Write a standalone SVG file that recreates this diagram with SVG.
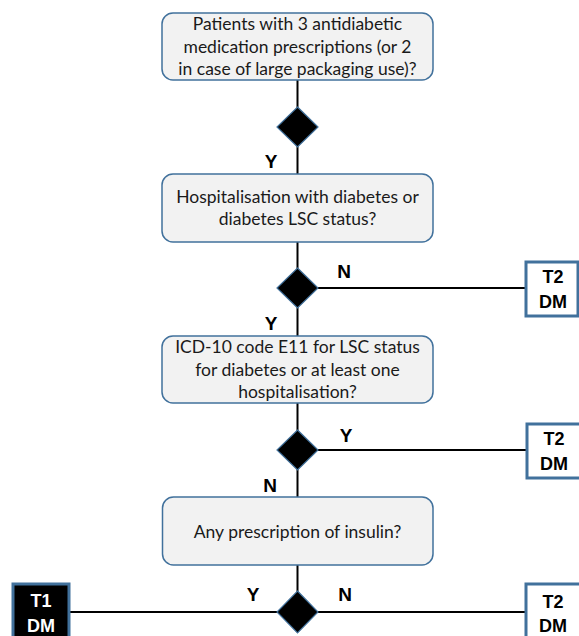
<svg xmlns="http://www.w3.org/2000/svg" width="579" height="636" viewBox="0 0 579 636">
<style>
.box{fill:#F2F2F2;stroke:#41719C;stroke-width:1.5}
.q{font-family:Lato,"Liberation Sans",sans-serif;font-size:17.5px;fill:#1a1a1a;text-anchor:middle}
.dia{fill:#000;stroke:#41719C;stroke-width:1.2}
.ln{stroke:#000;stroke-width:2;fill:none}
.lbl{font-family:"Liberation Sans",Arial,sans-serif;font-weight:bold;font-size:19px;fill:#000;text-anchor:middle}
.term{fill:#fff;stroke:#41719C;stroke-width:3}
.termk{fill:#000;stroke:#41719C;stroke-width:3}
.tt{font-family:"Liberation Sans",Arial,sans-serif;font-weight:bold;font-size:18px;fill:#000;text-anchor:middle}
.ttw{font-family:"Liberation Sans",Arial,sans-serif;font-weight:bold;font-size:18px;fill:#fff;text-anchor:middle}
</style>
<rect width="579" height="636" fill="#fff"/>
<g id="connectors">
<line class="ln" x1="297.5" y1="80" x2="297.5" y2="174"/>
<line class="ln" x1="297.5" y1="242" x2="297.5" y2="336"/>
<line class="ln" x1="297.5" y1="403" x2="297.5" y2="497"/>
<line class="ln" x1="297.5" y1="565" x2="297.5" y2="600"/>
<line class="ln" x1="297.5" y1="288" x2="526" y2="288"/>
<line class="ln" x1="297.5" y1="450" x2="527" y2="450"/>
<line class="ln" x1="69" y1="612" x2="526" y2="612"/>
</g>
<g id="q1">
<rect class="box" x="162" y="13" width="271" height="67" rx="11"/>
<text class="q" x="297.5" y="30">Patients with 3 antidiabetic</text>
<text class="q" x="297.5" y="53">medication prescriptions (or 2</text>
<text class="q" x="297.5" y="75">in case of large packaging use)?</text>
</g>
<g id="d1"><polygon class="dia" points="297.5,107 318,127 297.5,147 277,127"/></g>
<text class="lbl" x="271" y="168">Y</text>
<g id="q2">
<rect class="box" x="162" y="174" width="271" height="68" rx="11"/>
<text class="q" x="297.5" y="203">Hospitalisation with diabetes or</text>
<text class="q" x="297.5" y="225">diabetes LSC status?</text>
</g>
<g id="d2"><polygon class="dia" points="297.5,268 318,288 297.5,308 277,288"/></g>
<text class="lbl" x="344" y="278">N</text>
<text class="lbl" x="271" y="330">Y</text>
<g id="t2a">
<rect class="term" x="526" y="262" width="52" height="54"/>
<text class="tt" x="553" y="283">T2</text>
<text class="tt" x="553" y="308">DM</text>
</g>
<g id="q3">
<rect class="box" x="162" y="336" width="271" height="67" rx="11"/>
<text class="q" x="297.5" y="353">ICD-10 code E11 for LSC status</text>
<text class="q" x="297.5" y="376">for diabetes or at least one</text>
<text class="q" x="297.5" y="398">hospitalisation?</text>
</g>
<g id="d3"><polygon class="dia" points="297.5,430 318,450 297.5,470 277,450"/></g>
<text class="lbl" x="346" y="442">Y</text>
<text class="lbl" x="270" y="492">N</text>
<g id="t2b">
<rect class="term" x="527" y="424" width="54" height="54"/>
<text class="tt" x="554" y="445">T2</text>
<text class="tt" x="554" y="470">DM</text>
</g>
<g id="q4">
<rect class="box" x="162.5" y="497" width="270.5" height="68" rx="11"/>
<text class="q" x="297.5" y="538">Any prescription of insulin?</text>
</g>
<g id="d4"><polygon class="dia" points="297.5,591 318,612 297.5,633 277,612"/></g>
<text class="lbl" x="253" y="601">Y</text>
<text class="lbl" x="345" y="601">N</text>
<g id="t1">
<rect class="termk" x="13" y="584" width="56" height="56"/>
<text class="ttw" x="41" y="607">T1</text>
<text class="ttw" x="41" y="632">DM</text>
</g>
<g id="t2c">
<rect class="term" x="526" y="584" width="56" height="56"/>
<text class="tt" x="553" y="608">T2</text>
<text class="tt" x="553" y="632">DM</text>
</g>
</svg>
